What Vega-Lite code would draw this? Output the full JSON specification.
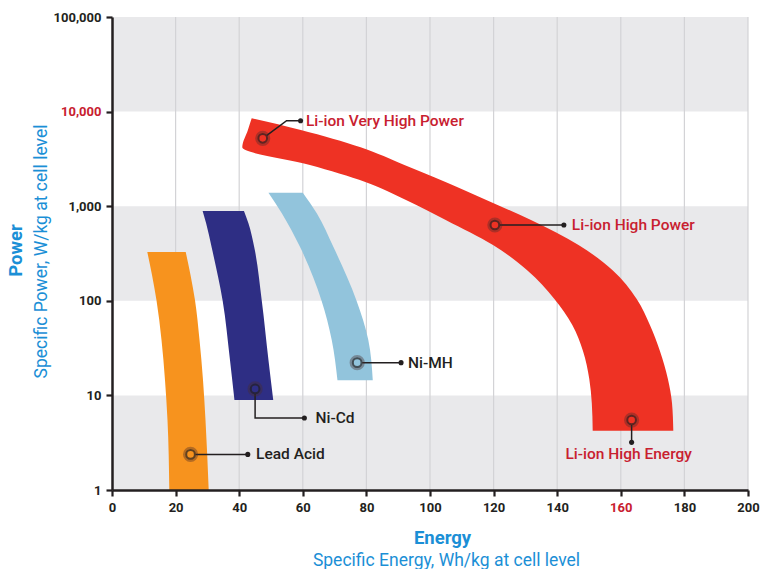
{
  "$schema": "https://vega.github.io/schema/vega-lite/v6.json",
  "width": 636,
  "height": 473,
  "autosize": {"type": "none"},
  "padding": {"left": 112, "top": 17, "right": 13, "bottom": 79},
  "background": "white",
  "config": {"view": {"stroke": null}, "font": "Roboto"},
  "datasets": {
    "bands": [{"lo": 1, "hi": 10}, {"lo": 100, "hi": 1000}, {"lo": 10000, "hi": 100000}],
    "grid": [{"x": 20}, {"x": 40}, {"x": 60}, {"x": 80}, {"x": 100}, {"x": 120}, {"x": 140}, {"x": 160}, {"x": 180}, {"x": 200}],
    "shapes": [
      {"s": "Lead Acid", "y": 328, "xl": 11.10, "xr": 23.18},
      {"s": "Lead Acid", "y": 187.4, "xl": 12.58, "xr": 24.69},
      {"s": "Lead Acid", "y": 101.3, "xl": 13.99, "xr": 26.10},
      {"s": "Lead Acid", "y": 38.5, "xl": 15.57, "xr": 27.52},
      {"s": "Lead Acid", "y": 14.5, "xl": 16.67, "xr": 28.62},
      {"s": "Lead Acid", "y": 5.49, "xl": 17.45, "xr": 29.40},
      {"s": "Lead Acid", "y": 1, "xl": 18.02, "xr": 30.41},
      {"s": "Ni-Cd", "y": 889, "xl": 28.5, "xr": 41.5},
      {"s": "Ni-Cd", "y": 659, "xl": 29.6, "xr": 42.9},
      {"s": "Ni-Cd", "y": 372, "xl": 31.3, "xr": 44.7},
      {"s": "Ni-Cd", "y": 100, "xl": 34.8, "xr": 47.1},
      {"s": "Ni-Cd", "y": 23.6, "xl": 37.1, "xr": 49.2},
      {"s": "Ni-Cd", "y": 8.94, "xl": 38.5, "xr": 50.7},
      {"s": "Ni-MH", "y": 1390, "xl": 49.2, "xr": 60.0},
      {"s": "Ni-MH", "y": 841, "xl": 53.4, "xr": 64.4},
      {"s": "Ni-MH", "y": 372, "xl": 59.1, "xr": 69.6},
      {"s": "Ni-MH", "y": 100, "xl": 65.9, "xr": 76.9},
      {"s": "Ni-MH", "y": 38.5, "xl": 69.1, "xr": 80.6},
      {"s": "Ni-MH", "y": 14.5, "xl": 70.9, "xr": 82.0},
      {"s": "Li-ion", "y": 8497, "xl": 43.93, "xr": 43.93},
      {"s": "Li-ion", "y": 6391, "xl": 42.74, "xr": 59.37},
      {"s": "Li-ion", "y": 4195, "xl": 40.97, "xr": 78.18},
      {"s": "Li-ion", "y": 2726, "xl": 62.23, "xr": 91.95},
      {"s": "Li-ion", "y": 1803, "xl": 79.65, "xr": 104.87},
      {"s": "Li-ion", "y": 1163, "xl": 92.45, "xr": 117.70},
      {"s": "Li-ion", "y": 715, "xl": 104.94, "xr": 131.76},
      {"s": "Li-ion", "y": 389, "xl": 119.81, "xr": 146.70},
      {"s": "Li-ion", "y": 212, "xl": 130.47, "xr": 157.33},
      {"s": "Li-ion", "y": 104.5, "xl": 139.12, "xr": 165.0},
      {"s": "Li-ion", "y": 55.5, "xl": 144.75, "xr": 169.15},
      {"s": "Li-ion", "y": 29.5, "xl": 148.11, "xr": 172.30},
      {"s": "Li-ion", "y": 14.9, "xl": 150.09, "xr": 174.81},
      {"s": "Li-ion", "y": 8.31, "xl": 150.88, "xr": 176.10},
      {"s": "Li-ion", "y": 4.24, "xl": 151.16, "xr": 176.51}
    ],
    "leaders": [
      {"id": "vhp", "o": 0, "x": 48.7, "y": 5615},
      {"id": "vhp", "o": 1, "x": 54.9, "y": 8016},
      {"id": "vhp", "o": 2, "x": 59.3, "y": 8016},
      {"id": "hp", "o": 0, "x": 122.0, "y": 633},
      {"id": "hp", "o": 1, "x": 142.1, "y": 633},
      {"id": "he", "o": 0, "x": 163.4, "y": 4.87},
      {"id": "he", "o": 1, "x": 163.4, "y": 3.19},
      {"id": "mh", "o": 0, "x": 78.7, "y": 22.2},
      {"id": "mh", "o": 1, "x": 90.9, "y": 22.2},
      {"id": "cd", "o": 0, "x": 45.0, "y": 10.35},
      {"id": "cd", "o": 1, "x": 45.0, "y": 5.77},
      {"id": "cd", "o": 2, "x": 60.5, "y": 5.77},
      {"id": "la", "o": 0, "x": 26.3, "y": 2.38},
      {"id": "la", "o": 1, "x": 42.7, "y": 2.38}
    ],
    "markers": [
      {"x": 47.4, "y": 5220},
      {"x": 120.4, "y": 633},
      {"x": 163.4, "y": 5.49},
      {"x": 77.1, "y": 22.2},
      {"x": 45.0, "y": 11.7},
      {"x": 24.7, "y": 2.38}
    ],
    "dots": [
      {"x": 59.3, "y": 8016},
      {"x": 142.1, "y": 633},
      {"x": 163.4, "y": 3.19},
      {"x": 90.9, "y": 22.2},
      {"x": 60.5, "y": 5.77},
      {"x": 42.7, "y": 2.38}
    ],
    "labelsRed": [
      {"t": "Li-ion Very High Power", "x": 61.0, "y": 8016},
      {"t": "Li-ion High Power", "x": 144.6, "y": 633},
      {"t": "Li-ion High Energy", "x": 142.6, "y": 2.4}
    ],
    "labelsDark": [
      {"t": "Ni-MH", "x": 93.1, "y": 22.2},
      {"t": "Ni-Cd", "x": 64.0, "y": 5.77},
      {"t": "Lead Acid", "x": 45.3, "y": 2.38}
    ]
  },
  "layer": [
    {
      "data": {"name": "bands"},
      "mark": {"type": "rect", "color": "#e9e9eb"},
      "encoding": {
        "x": {"datum": 0, "type": "quantitative", "scale": {"domain": [0, 200], "nice": false, "zero": false}, "axis": null},
        "x2": {"datum": 200},
        "y": {
          "field": "lo", "type": "quantitative",
          "scale": {"type": "log", "domain": [1, 100000], "nice": false},
          "axis": {
            "orient": "left", "values": [1, 10, 100, 1000, 10000, 100000], "format": ",",
            "title": "Power", "titleFont": "Roboto", "titleFontSize": 18.5, "titleFontWeight": "bold", "titleColor": "#1b8fd6",
            "titleX": -97, "titleY": 233, "titleAngle": -90, "titleAlign": "center", "titleBaseline": "middle",
            "labelFont": "Roboto", "labelFontSize": 13, "labelFontWeight": "bold",
            "labelColor": {"condition": {"test": "datum.value === 10000", "value": "#c8202f"}, "value": "#231f20"},
            "labelPadding": 5, "tickSize": 6, "tickWidth": 2.2, "tickColor": "#231f20",
            "domainColor": "#231f20", "domainWidth": 2.5, "grid": false, "zindex": 1, "labelFlush": false, "labelOverlap": false
          }
        },
        "y2": {"field": "hi"}
      }
    },
    {
      "data": {"name": "grid"},
      "mark": {"type": "rule", "color": "#d3d3d6", "strokeWidth": 1.2},
      "encoding": {
        "x": {
          "field": "x", "type": "quantitative", "scale": {"domain": [0, 200], "nice": false, "zero": false},
          "axis": {
            "orient": "bottom", "values": [0, 20, 40, 60, 80, 100, 120, 140, 160, 180, 200],
            "title": "Energy", "titleFont": "Roboto", "titleFontSize": 18.5, "titleFontWeight": "bold", "titleColor": "#1b8fd6",
            "titleX": 330, "titleY": 47, "titleAngle": 0, "titleAlign": "center", "titleBaseline": "middle",
            "labelFont": "Roboto", "labelFontSize": 13, "labelFontWeight": "bold",
            "labelColor": {"condition": {"test": "datum.value === 160", "value": "#c8202f"}, "value": "#231f20"},
            "labelPadding": 5, "tickSize": 6, "tickWidth": 2.2, "tickColor": "#231f20",
            "domainColor": "#231f20", "domainWidth": 2.5, "grid": false, "zindex": 1, "labelFlush": false, "labelOverlap": false
          }
        }
      }
    },
    {
      "data": {"name": "shapes"},
      "mark": {"type": "area", "orient": "horizontal", "interpolate": "monotone"},
      "encoding": {
        "y": {
          "field": "y", "type": "quantitative", "scale": {"type": "log", "domain": [1, 100000], "nice": false},
          "axis": {
            "orient": "left", "labels": false, "ticks": false, "domain": false, "grid": false,
            "title": "Specific Power, W/kg at cell level", "titleFont": "Roboto", "titleFontSize": 17.5, "titleFontWeight": "normal", "titleColor": "#1b8fd6",
            "titleX": -71, "titleY": 234, "titleAngle": -90, "titleAlign": "center", "titleBaseline": "middle"
          }
        },
        "x": {
          "field": "xl", "type": "quantitative", "scale": {"domain": [0, 200], "nice": false, "zero": false},
          "axis": {
            "orient": "bottom", "labels": false, "ticks": false, "domain": false, "grid": false,
            "title": "Specific Energy, Wh/kg at cell level", "titleFont": "Roboto", "titleFontSize": 17.5, "titleFontWeight": "normal", "titleColor": "#1b8fd6",
            "titleX": 334, "titleY": 70, "titleAngle": 0, "titleAlign": "center", "titleBaseline": "middle"
          }
        },
        "x2": {"field": "xr"},
        "color": {
          "field": "s", "type": "nominal", "legend": null,
          "scale": {"domain": ["Lead Acid", "Ni-Cd", "Ni-MH", "Li-ion"], "range": ["#f7931e", "#2e2e84", "#92c4dc", "#ee3224"]}
        }
      }
    },
    {
      "data": {"name": "leaders"},
      "mark": {"type": "line", "color": "#231f20", "strokeWidth": 1.5},
      "encoding": {
        "x": {"field": "x", "type": "quantitative", "axis": null},
        "y": {"field": "y", "type": "quantitative", "axis": null},
        "detail": {"field": "id"},
        "order": {"field": "o", "type": "quantitative"}
      }
    },
    {
      "data": {"name": "markers"},
      "mark": {"type": "point", "shape": "circle", "filled": false, "stroke": "#4a2e2b", "strokeOpacity": 0.55, "strokeWidth": 2.5, "size": 160},
      "encoding": {
        "x": {"field": "x", "type": "quantitative", "axis": null},
        "y": {"field": "y", "type": "quantitative", "axis": null}
      }
    },
    {
      "data": {"name": "markers"},
      "mark": {"type": "point", "shape": "circle", "filled": false, "stroke": "#231f20", "strokeOpacity": 1, "strokeWidth": 2, "size": 75},
      "encoding": {
        "x": {"field": "x", "type": "quantitative", "axis": null},
        "y": {"field": "y", "type": "quantitative", "axis": null}
      }
    },
    {
      "data": {"name": "dots"},
      "mark": {"type": "point", "shape": "circle", "filled": true, "color": "#231f20", "opacity": 1, "size": 26},
      "encoding": {
        "x": {"field": "x", "type": "quantitative", "axis": null},
        "y": {"field": "y", "type": "quantitative", "axis": null}
      }
    },
    {
      "data": {"name": "labelsRed"},
      "mark": {"type": "text", "align": "left", "baseline": "middle", "font": "Roboto", "fontSize": 15.5, "fontWeight": 500, "color": "#c8202f"},
      "encoding": {
        "x": {"field": "x", "type": "quantitative", "axis": null},
        "y": {"field": "y", "type": "quantitative", "axis": null},
        "text": {"field": "t"}
      }
    },
    {
      "data": {"name": "labelsDark"},
      "mark": {"type": "text", "align": "left", "baseline": "middle", "font": "Roboto", "fontSize": 15.5, "fontWeight": 500, "color": "#231f20"},
      "encoding": {
        "x": {"field": "x", "type": "quantitative", "axis": null},
        "y": {"field": "y", "type": "quantitative", "axis": null},
        "text": {"field": "t"}
      }
    }
  ],
  "resolve": {"axis": {"x": "independent", "y": "independent"}}
}
